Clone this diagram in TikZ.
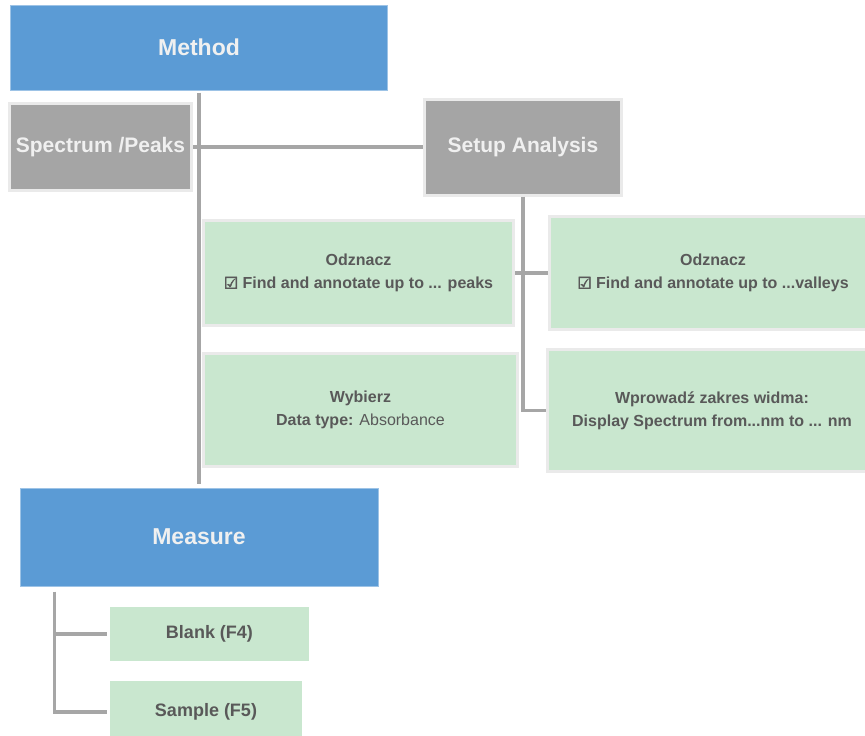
\documentclass[tikz,border=0pt]{standalone}
\usepackage{fontspec}
\setmainfont{Liberation Sans}
\newfontface\chkface[FakeBold=3]{DejaVu Sans}
\usetikzlibrary{positioning,calc}
\definecolor{boxblue}{HTML}{5B9BD5}
\definecolor{boxgray}{HTML}{A5A5A5}
\definecolor{boxgreen}{HTML}{C9E7CF}
\definecolor{rimgray}{HTML}{EAEAEA}
\definecolor{linegray}{HTML}{A6A6A6}
\definecolor{textdark}{HTML}{595959}
\definecolor{textlight}{HTML}{F0F0F0}
\newcommand*{\chk}{{\chkface\char"2611}}

\begin{document}
\begin{tikzpicture}[x=1pt,y=-1pt,
  mainbox/.style={fill=boxblue,draw=boxblue!60!white,line width=1pt,
    text=textlight,font=\fontsize{23}{27}\selectfont\bfseries},
  menubox/.style={fill=boxgray,draw=rimgray,line width=3pt,
    text=textlight,font=\fontsize{21}{25}\selectfont\bfseries},
  optbox/.style={fill=boxgreen,draw=rimgray,line width=3pt,align=center,
    text=textdark,font=\fontsize{16}{23}\selectfont\bfseries},
  keybox/.style={fill=boxgreen,text=textdark,
    font=\fontsize{18}{22}\selectfont\bfseries},
  link/.style={linegray,line width=3.5pt}]
\useasboundingbox (0,0) rectangle (865,736);
% Top level
\node[mainbox,minimum width=377pt,minimum height=85pt] (Method) at (199,47.5) {Method};
\node[menubox,minimum width=182pt,minimum height=87pt] (Spectrum) at (100.5,147) {Spectrum /Peaks};
\node[menubox,minimum width=197pt,minimum height=96pt] (Setup) at (523,147) {Setup Analysis};
% Options of the analysis
\node[optbox,minimum width=310pt,minimum height=105pt] (Peaks) at (358.5,273)
  {Odznacz\\\chk\ Find and annotate up to ... peaks};
\node[optbox,minimum width=314pt,minimum height=113pt] (Wybierz) at (360.5,410)
  {Wybierz\\Data type: \mdseries Absorbance};
\node[optbox,minimum width=327pt,minimum height=113pt] (Valleys) at (713,273)
  {Odznacz\\\chk\ Find and annotate up to ...valleys};
\node[optbox,minimum width=329pt,minimum height=122pt] (Wprowadz) at (712,410.5)
  {Wprowadź zakres widma:\\Display Spectrum from...nm to ... nm};
% Measuring
\node[mainbox,minimum width=358pt,minimum height=98pt] (Measure) at (199,537) {Measure};
\node[keybox,minimum width=199pt,minimum height=54pt] (Blank) at (209.5,634) {Blank (F4)};
\node[keybox,minimum width=192pt,minimum height=62pt] (Sample) at (206,712) {Sample (F5)};
% Connectors
\draw[link,shorten <=2pt,shorten >=4pt] (Method.south) -- (Measure.north);
\draw[link] (Spectrum.east) -- (Setup.west);
\draw[link] (Setup.south) |- (Wprowadz.west);
\draw[link] (Peaks.east) -- (Valleys.west);
\coordinate (mstem) at ([xshift=35pt,yshift=-5pt]Measure.south west);
\draw[link,shorten >=3pt] (mstem) |- (Sample.west);
\draw[link,shorten >=3pt] (mstem |- Blank.west) -- (Blank.west);
\end{tikzpicture}
\end{document}
